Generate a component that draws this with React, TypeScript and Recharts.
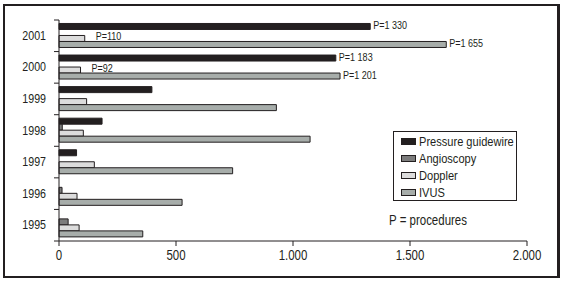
import { Bar, BarChart, LabelList, Legend, XAxis, YAxis } from 'recharts';

const years = ['2001', '2000', '1999', '1998', '1997', '1996', '1995'];
const pressureGuidewire = [1330, 1183, 397, 184, 75, 0, 0];
const angioscopy = [0, 0, 0, 14, 0, 13, 39];
const doppler = [110, 92, 118, 104, 151, 77, 86];
const ivus = [1655, 1201, 929, 1073, 742, 526, 358];
const pgLabels = ['P=1 330', 'P=1 183', null, null, null, null, null];
const dopplerLabels = ['P=110', 'P=92', null, null, null, null, null];
const ivusLabels = ['P=1 655', 'P=1 201', null, null, null, null, null];
const xTicks = [0, 500, 1000, 1500, 2000];

const series = [
  { key: 'pg', name: 'Pressure guidewire', color: '#231f20' },
  { key: 'angio', name: 'Angioscopy', color: '#7c7c7c' },
  { key: 'doppler', name: 'Doppler', color: '#dcdcdc' },
  { key: 'ivus', name: 'IVUS', color: '#a7adaa' },
];

const data = years.map((year, i) => ({
  year,
  pg: pressureGuidewire[i],
  angio: angioscopy[i],
  doppler: doppler[i],
  ivus: ivus[i],
  pgLabel: pgLabels[i],
  dopplerLabel: dopplerLabels[i],
  ivusLabel: ivusLabels[i],
}));

// no condensed font installed, so squeeze Liberation Sans horizontally
const FONT = '"Liberation Sans", Arial, sans-serif';
const SQUEEZE = 0.82;
const INK = '#231f20';
const W = 563;
const H = 282;
const MARGIN = { top: 20, right: 36, bottom: 11, left: 0 };
const X_AXIS_H = 30;
const PLOT_H = H - MARGIN.top - MARGIN.bottom - X_AXIS_H;
const band = PLOT_H / years.length;

// thousands separator is a dot in the original
const fmt = (v: number) => String(v).replace(/\B(?=(\d{3})+(?!\d))/g, '.');

function NarrowText({ x, y, size, anchor = 'start', baseline, children }: any) {
  return (
    <text
      transform={`translate(${x},${y}) scale(${SQUEEZE},1)`}
      textAnchor={anchor}
      dominantBaseline={baseline}
      fontSize={size}
      fontFamily={FONT}
      fill={INK}
    >
      {children}
    </text>
  );
}

function YearTick({ x, y, payload, index }: any) {
  return (
    <g>
      <line x1={x - 5} x2={x} y1={y - band / 2} y2={y - band / 2} stroke={INK} />
      {index === years.length - 1 && (
        <line x1={x - 5} x2={x} y1={y + band / 2} y2={y + band / 2} stroke={INK} />
      )}
      <NarrowText x={x - 13} y={y + 4} size={13} anchor="end">
        {payload.value}
      </NarrowText>
    </g>
  );
}

function ValueTick({ x, y, payload }: any) {
  return (
    <NarrowText x={x} y={y + 11} size={14} anchor="middle">
      {fmt(payload.value)}
    </NarrowText>
  );
}

const makeLabel = (dx: number, dy: number) => (props: any) => {
  const { x, y, width, height, value } = props;
  if (!value) return null;
  return (
    <NarrowText x={x + width + dx} y={y + height / 2 + dy} size={11} baseline="central">
      {value}
    </NarrowText>
  );
};

const squeezed = {
  display: 'inline-block',
  transform: `scaleX(${SQUEEZE})`,
  transformOrigin: 'left center',
  whiteSpace: 'nowrap' as const,
};

function LegendBox() {
  return (
    <div style={{ fontFamily: FONT, color: INK }}>
      <div
        style={{
          border: `1px solid ${INK}`,
          width: 122,
          height: 67,
          boxSizing: 'content-box',
          paddingTop: 1,
        }}
      >
        {series.map(s => (
          <div
            key={s.key}
            style={{ display: 'flex', alignItems: 'center', height: 17, fontSize: 13.5, lineHeight: '17px', whiteSpace: 'nowrap' }}
          >
            <span
              style={{
                display: 'inline-block',
                flex: 'none',
                width: 13,
                height: 5,
                background: s.color,
                border: `1px solid ${INK}`,
                marginLeft: 7,
                marginRight: 3,
              }}
            />
            <span style={squeezed}>{s.name}</span>
          </div>
        ))}
      </div>
      <div style={{ fontSize: 14, marginTop: 11, marginLeft: -4 }}>
        <span style={squeezed}>P = procedures</span>
      </div>
    </div>
  );
}

export default function App() {
  return (
    <div style={{ position: 'absolute', left: 0, top: 0, width: W, height: H, background: '#fff' }}>
      <BarChart
        width={W}
        height={H}
        data={data}
        layout="vertical"
        margin={MARGIN}
        barCategoryGap="11%"
        barGap={0}
      >
        <XAxis
          type="number"
          domain={[0, 2000]}
          ticks={xTicks}
          height={X_AXIS_H}
          tickSize={5}
          tickMargin={3}
          stroke={INK}
          tick={<ValueTick />}
        />
        <YAxis
          type="category"
          dataKey="year"
          width={59}
          tickLine={false}
          tickSize={0}
          tickMargin={0}
          stroke={INK}
          tick={<YearTick />}
        />
        <Legend
          layout="vertical"
          align="center"
          verticalAlign="middle"
          content={() => <LegendBox />}
          wrapperStyle={{ position: 'absolute', left: 393, top: 131, width: 'auto' }}
        />
        {series.map(s => (
          <Bar
            key={s.key}
            dataKey={s.key}
            name={s.name}
            fill={s.color}
            stroke={INK}
            strokeWidth={1}
            isAnimationActive={false}
          >
            {s.key === 'pg' && <LabelList dataKey="pgLabel" content={makeLabel(3, -1)} />}
            {s.key === 'doppler' && <LabelList dataKey="dopplerLabel" content={makeLabel(11, -2)} />}
            {s.key === 'ivus' && <LabelList dataKey="ivusLabel" content={makeLabel(3, -1)} />}
          </Bar>
        ))}
      </BarChart>
      <div
        style={{
          position: 'absolute',
          left: 3,
          top: 4,
          width: 552,
          height: 270,
          borderTop: `2px solid ${INK}`,
          borderLeft: `2px solid ${INK}`,
          borderBottom: `2px solid ${INK}`,
          borderRight: `3px solid ${INK}`,
          pointerEvents: 'none',
        }}
      />
    </div>
  );
}
